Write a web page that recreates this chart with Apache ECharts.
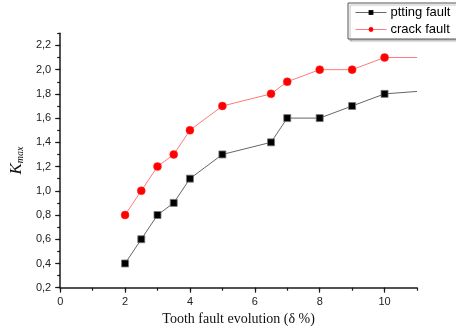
<!DOCTYPE html>
<html>
<head>
<meta charset="utf-8">
<script src="https://cdn.jsdelivr.net/npm/echarts@6/dist/echarts.min.js"></script>
<style>
  html, body { margin: 0; padding: 0; background: #fff; }
  #chart { width: 456px; height: 334px; }
</style>
</head>
<body>
<div id="chart"></div>
<script>
// Fault evolution (%) and the K_max indicator for two tooth fault types
const evolution = [2, 2.5, 3, 3.5, 4, 5, 6.5, 7, 8, 9, 10, 11];
const pittingKmax = [0.4, 0.6, 0.8, 0.9, 1.1, 1.3, 1.4, 1.6, 1.6, 1.7, 1.8, 1.82];
const crackKmax = [0.8, 1.0, 1.2, 1.3, 1.5, 1.7, 1.8, 1.9, 2.0, 2.0, 2.1, 2.1];
const seriesNames = ['ptting fault', 'crack fault'];
const yLabelValues = [0.2, 0.4, 0.6, 0.8, 1.0, 1.2, 1.4, 1.6, 1.8, 2.0, 2.2];
const xLabelValues = [0, 2, 4, 6, 8, 10];

// the final point only continues the line; it carries no marker
function toPoints(ys) {
  return evolution.map((x, i) => {
    const p = { value: [x, ys[i]] };
    if (i === evolution.length - 1) p.symbol = 'none';
    return p;
  });
}

const squareSymbol = 'path://M0 0H10V10H0Z';
const axisColor = '#1a1a1a';
const labelFont = { fontFamily: 'Liberation Sans, Arial, sans-serif', fontSize: 11, color: '#222' };

const chart = echarts.init(document.getElementById('chart'), null, { renderer: 'canvas' });
chart.setOption({
  animation: false,
  backgroundColor: '#ffffff',
  grid: { left: 56.6, right: 39, top: 33.3, bottom: 46.3, containLabel: false },
  legend: {
    orient: 'vertical',
    left: 348, top: 3,
    itemWidth: 31, itemHeight: 6, itemGap: 4,
    padding: [3, 20, 3, 7],
    backgroundColor: '#fff',
    borderColor: '#555', borderWidth: 1, borderRadius: 0,
    shadowColor: 'rgba(0,0,0,0.25)', shadowOffsetX: 2, shadowOffsetY: 2, shadowBlur: 1,
    lineStyle: { width: 1 },
    itemStyle: { borderWidth: 0 },
    textStyle: { fontFamily: 'Liberation Sans, Arial, sans-serif', fontSize: 13, color: '#000', padding: [0, 0, 0, -1] },
    data: seriesNames
  },
  xAxis: [{
    type: 'value', min: 0, max: 11, interval: 2,
    position: 'bottom',
    name: 'Tooth fault evolution (δ %)',
    nameLocation: 'middle', nameGap: 17,
    nameTextStyle: { fontFamily: 'Liberation Serif, Times New Roman, serif', fontSize: 14, color: '#111' },
    axisLine: { show: true, onZero: false, lineStyle: { color: axisColor, width: 1.5 } },
    axisTick: { show: true, length: 5, customValues: xLabelValues, lineStyle: { color: axisColor, width: 1.2 } },
    axisLabel: Object.assign({ margin: 9, customValues: xLabelValues }, labelFont),
    splitLine: { show: false }
  }, {
    // minor ticks every unit
    type: 'value', min: 0, max: 11, interval: 1,
    position: 'bottom',
    axisLine: { show: false },
    axisTick: { show: true, length: 3, lineStyle: { color: axisColor, width: 1.2 } },
    axisLabel: { show: false },
    splitLine: { show: false }
  }],
  yAxis: [{
    type: 'value', min: 0.2, max: 2.3, interval: 0.2,
    position: 'left',
    name: '{k|K}{m|max}',
    nameLocation: 'middle', nameGap: 31, nameRotate: 90,
    nameTextStyle: {
      rich: {
        k: { fontFamily: 'Liberation Serif, Times New Roman, serif', fontStyle: 'italic', fontSize: 17, color: '#111' },
        m: { fontFamily: 'Liberation Serif, Times New Roman, serif', fontStyle: 'italic', fontSize: 10, color: '#111', verticalAlign: 'bottom', padding: [6, 0, 0, 0] }
      }
    },
    axisLine: { show: true, onZero: false, lineStyle: { color: axisColor, width: 1.5 } },
    axisTick: { show: true, length: 5, customValues: yLabelValues, lineStyle: { color: axisColor, width: 1.2 } },
    axisLabel: Object.assign({
      margin: 9, customValues: yLabelValues,
      formatter: v => v.toFixed(1).replace('.', ',')
    }, labelFont),
    splitLine: { show: false }
  }, {
    // minor ticks every 0.1
    type: 'value', min: 0.2, max: 2.3, interval: 0.1,
    position: 'left',
    axisLine: { show: false },
    axisTick: { show: true, length: 3, lineStyle: { color: axisColor, width: 1.2 } },
    axisLabel: { show: false },
    splitLine: { show: false }
  }],
  series: [{
    name: seriesNames[0],
    type: 'line',
    xAxisIndex: 0, yAxisIndex: 0,
    data: toPoints(pittingKmax),
    symbol: squareSymbol, symbolSize: 7, symbolKeepAspect: true,
    itemStyle: { color: '#000', borderColor: '#777', borderWidth: 0.8 },
    lineStyle: { color: '#666', width: 1 },
    clip: false
  }, {
    name: seriesNames[1],
    type: 'line',
    xAxisIndex: 0, yAxisIndex: 0,
    data: toPoints(crackKmax),
    symbol: 'circle', symbolSize: 8,
    itemStyle: { color: '#ff0000', borderColor: '#ff3030', borderWidth: 0.5 },
    lineStyle: { color: '#ff7a7a', width: 1 },
    clip: false
  }]
});
</script>
</body>
</html>
